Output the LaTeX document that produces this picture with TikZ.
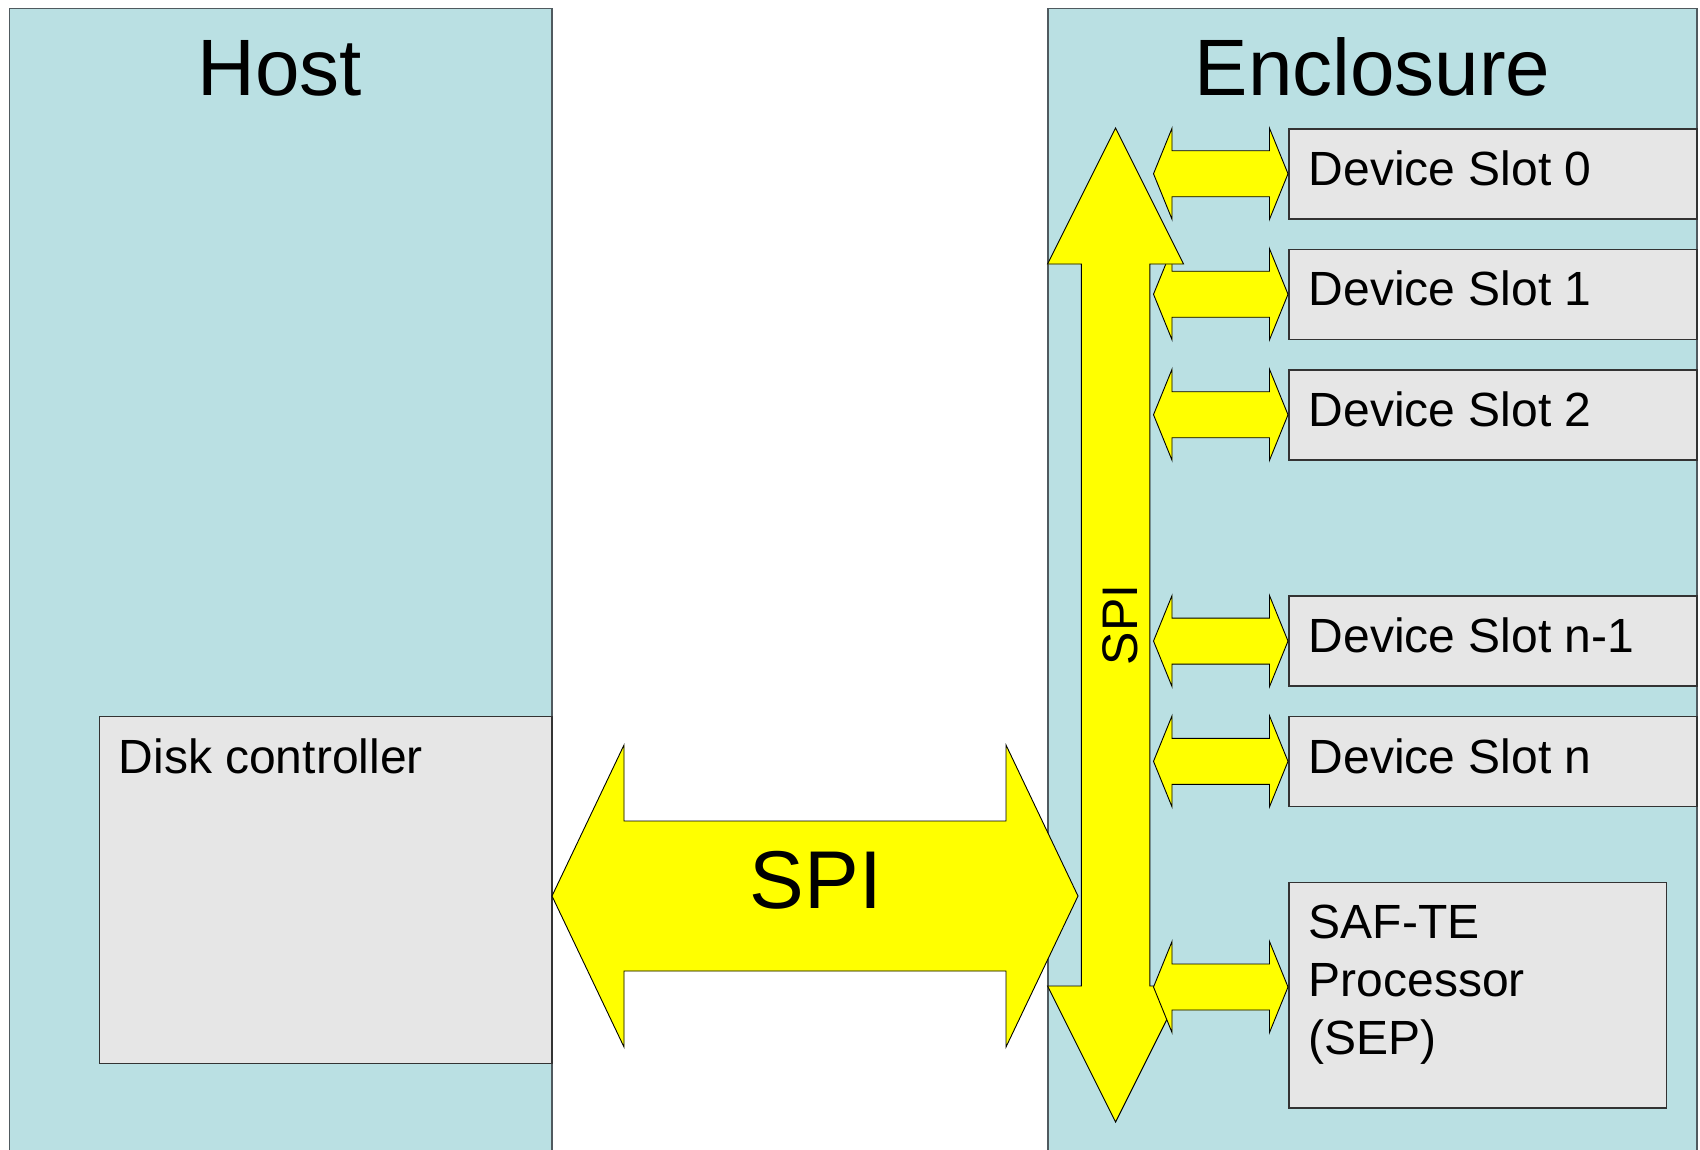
\documentclass[tikz,border=0pt]{standalone}
\usepackage{fontspec}
\setmainfont{Liberation Sans}
\usetikzlibrary{calc}
\definecolor{bluebg}{RGB}{186,224,227}
\definecolor{graybox}{RGB}{230,230,230}
\definecolor{edgecol}{RGB}{80,90,95}
\definecolor{arrowyellow}{RGB}{255,255,0}
\tikzset{
  panel/.style={draw=edgecol, line width=1.5pt, fill=bluebg, rectangle, inner sep=0pt, anchor=north west},
  graybx/.style={draw=black!80, line width=1.5pt, fill=graybox, rectangle, inner sep=0pt, anchor=north west},
  arrowbody/.style={fill=arrowyellow, draw=black, line width=0.9pt, line join=miter},
  arrowglow/.style={fill=arrowyellow},
  titletext/.style={font=\fontsize{80}{96}\selectfont, inner sep=0pt, anchor=base},
  lbl/.style={font=\fontsize{48}{58}\selectfont, inner sep=0pt, anchor=base west},
}
% horizontal double block arrow: #1 left tip, #2 right tip, #3 head length, #4 head half height, #5 shaft half height
\newcommand{\HArrowPath}[5]{let \p1=(#1), \p2=(#2) in
  (\x1,\y1) -- (\x1+#3pt,\y1+#4pt) -- (\x1+#3pt,\y1+#5pt) -- (\x2-#3pt,\y1+#5pt) -- (\x2-#3pt,\y1+#4pt)
  -- (\x2,\y1) -- (\x2-#3pt,\y1-#4pt) -- (\x2-#3pt,\y1-#5pt) -- (\x1+#3pt,\y1-#5pt) -- (\x1+#3pt,\y1-#4pt) -- cycle}
\newcommand{\HArrow}[5]{%
  \begin{scope}[shift={(2pt,-2pt)}]\fill[arrowglow] \HArrowPath{#1}{#2}{#3}{#4}{#5};\end{scope}
  \draw[arrowbody] \HArrowPath{#1}{#2}{#3}{#4}{#5};}
% vertical double block arrow: #1 top tip, #2 bottom tip, #3 head length, #4 head half width, #5 shaft half width
\newcommand{\VArrowPath}[5]{let \p1=(#1), \p2=(#2) in
  (\x1,\y1) -- (\x1+#4pt,\y1-#3pt) -- (\x1+#5pt,\y1-#3pt) -- (\x1+#5pt,\y2+#3pt) -- (\x1+#4pt,\y2+#3pt)
  -- (\x1,\y2) -- (\x1-#4pt,\y2+#3pt) -- (\x1-#5pt,\y2+#3pt) -- (\x1-#5pt,\y1-#3pt) -- (\x1-#4pt,\y1-#3pt) -- cycle}
\newcommand{\VArrow}[5]{%
  \begin{scope}[shift={(2pt,-2pt)}]\fill[arrowglow] \VArrowPath{#1}{#2}{#3}{#4}{#5};\end{scope}
  \draw[arrowbody] \VArrowPath{#1}{#2}{#3}{#4}{#5};}

\begin{document}
\begin{tikzpicture}[x=1pt,y=-1pt]
\useasboundingbox (0,0) rectangle (1700,1149);
\clip (0,0) rectangle (1700,1149);
\fill[white] (0,0) rectangle (1700,1149);

% panels
\node[panel, minimum width=542.3pt, minimum height=1170pt] (host) at (8.7,7.6) {};
\node[panel, minimum width=649pt, minimum height=1170pt] (encl) at (1047,7.6) {};
\node[titletext] (hosttitle) at (280,95) {Host};
\node[titletext] (encltitle) at (1372.5,95) {Enclosure};

% disk controller
\node[graybx, minimum width=452.3pt, minimum height=347pt] (disk) at (98.7,715.6) {};
\node[lbl] (disktext) at (118.5,773) {Disk controller};

% device slots
\node[graybx, minimum width=408pt, minimum height=90pt] (slot0) at (1288,128) {};
\node[graybx, minimum width=408pt, minimum height=90pt] (slot1) at (1288,248.5) {};
\node[graybx, minimum width=408pt, minimum height=90pt] (slot2) at (1288,369) {};
\node[graybx, minimum width=408pt, minimum height=90pt] (slotm) at (1288,595.3) {};
\node[graybx, minimum width=408pt, minimum height=90pt] (slotn) at (1288,715.6) {};
\node[lbl] (t0) at (1308.5,185.4) {Device Slot 0};
\node[lbl] (t1) at (1308.5,305.9) {Device Slot 1};
\node[lbl] (t2) at (1308.5,426.4) {Device Slot 2};
\node[lbl] (tm) at (1308.5,652.7) {Device Slot n-1};
\node[lbl] (tn) at (1308.5,773) {Device Slot n};

% SEP
\node[graybx, minimum width=377.5pt, minimum height=225.5pt] (sep) at (1288,881.5) {};
\node[lbl] (sep1) at (1308.5,938) {SAF-TE};
\node[lbl] (sep2) at (1308.5,996) {Processor};
\node[lbl] (sep3) at (1308.5,1054.5) {(SEP)};

% small slot arrows
\coordinate (a0) at ($(slot0.west)+(-134.5,0)$);
\coordinate (a1) at ($(slot1.west)+(-134.5,0)$);
\coordinate (a2) at ($(slot2.west)+(-134.5,0)$);
\coordinate (am) at ($(slotm.west)+(-134.5,0)$);
\coordinate (an) at ($(slotn.west)+(-134.5,0)$);
\HArrow{a0}{slot0.west}{18.5}{45.5}{23}
\HArrow{a1}{slot1.west}{18.5}{45.5}{23}
\HArrow{a2}{slot2.west}{18.5}{45.5}{23}
\HArrow{am}{slotm.west}{18.5}{45.5}{23}
\HArrow{an}{slotn.west}{18.5}{45.5}{23}

% vertical SPI bus
\coordinate (vT) at (1115.6,128);
\coordinate (vB) at (1115.6,1122);
\VArrow{vT}{vB}{136}{68}{34.3}
\node[rotate=90, font=\fontsize{50}{60}\selectfont, inner sep=0pt] (vspi) at (1120,625) {SPI};

% SEP arrow
\coordinate (asR) at (1288,987);
\coordinate (asL) at (1153.5,987);
\HArrow{asL}{asR}{18.5}{45.5}{23}

% host-enclosure SPI
\coordinate (spiL) at (552,896);
\coordinate (spiR) at (1078,896);
\HArrow{spiL}{spiR}{72}{151}{75}
\node[font=\fontsize{82}{98}\selectfont, inner sep=0pt, anchor=base] (spi) at (816,908.6) {SPI};
\end{tikzpicture}
\end{document}
